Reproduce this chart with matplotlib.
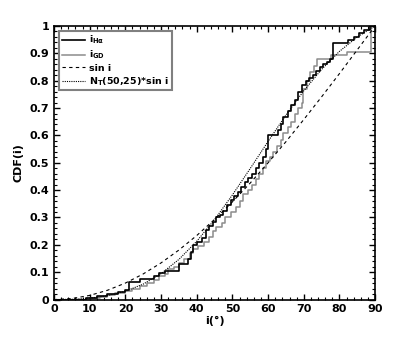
import numpy as np
import matplotlib
matplotlib.use('Agg')
import matplotlib.pyplot as plt
from matplotlib.ticker import MultipleLocator, FormatStrFormatter

plt.rcParams['font.family'] = ['DejaVu Sans']
plt.rcParams['font.weight'] = 'bold'
plt.rcParams['mathtext.fontset'] = 'dejavusans'
plt.rcParams['mathtext.default'] = 'bf'

# empirical CDF of H-alpha inclinations (angle where the step occurs, CDF after it)
ha_angle = [0, 9, 12, 15, 18, 20, 21, 24, 28, 29.5, 31, 35, 37.5, 38.3, 39, 40, 41.5,
            42.5, 43.5, 44.5, 45.5, 46.5, 47.5, 48.5, 49.5, 50.5, 51.5, 52.5, 53.5,
            54.5, 55.5, 56.5, 57.5, 58.5, 59.5, 60, 62.8, 63.5, 64.3, 65.5, 66.5, 67.5,
            68.5, 69.4, 70.5, 71.5, 72.5, 73.5, 74.5, 75.5, 76.5, 77.4, 78.2, 82.5, 84,
            85.5, 87, 88.6, 90]
ha_cdf = [0, 0.007, 0.014, 0.02, 0.027, 0.035, 0.065, 0.075, 0.085, 0.098, 0.105, 0.13,
          0.15, 0.175, 0.2, 0.21, 0.225, 0.255, 0.27, 0.285, 0.3, 0.31, 0.325, 0.345,
          0.365, 0.38, 0.395, 0.41, 0.43, 0.445, 0.46, 0.48, 0.5, 0.52, 0.55, 0.6, 0.62,
          0.64, 0.668, 0.69, 0.71, 0.73, 0.76, 0.785, 0.8, 0.81, 0.82, 0.835, 0.85, 0.86,
          0.87, 0.88, 0.937, 0.95, 0.96, 0.975, 0.985, 1.0, 1.0]

# empirical CDF of GD inclinations
gd_angle = [0, 10, 13, 15, 17, 20, 22, 24, 26, 28, 29.5, 31, 32, 33.5, 35, 36.5, 38, 39,
            40.5, 42, 43.5, 44.5, 45.5, 47, 48, 49.5, 51, 52, 53, 54.5, 55.5, 56.5, 57.5,
            58.5, 59.5, 60.5, 61.5, 62.5, 63.5, 64.3, 65.5, 66.5, 67.5, 68.5, 69.4, 69.8,
            70.8, 71.8, 72.8, 73.8, 77.5, 82, 88.8, 90]
gd_cdf = [0, 0.005, 0.01, 0.015, 0.025, 0.03, 0.04, 0.05, 0.06, 0.07, 0.085, 0.095, 0.11,
          0.12, 0.135, 0.15, 0.17, 0.185, 0.195, 0.21, 0.23, 0.25, 0.265, 0.28, 0.3, 0.32,
          0.34, 0.36, 0.385, 0.4, 0.42, 0.44, 0.46, 0.48, 0.505, 0.52, 0.54, 0.56, 0.585,
          0.61, 0.63, 0.65, 0.68, 0.7, 0.72, 0.77, 0.80, 0.83, 0.855, 0.88, 0.895, 0.905,
          1.0, 1.0]

# model curves read on a 5 degree grid
model_angle = [0, 5, 10, 15, 20, 25, 30, 35, 40, 45, 50, 55, 60, 65, 70, 75, 80, 85, 90]
sin_cdf = [0, 0.0038, 0.0152, 0.0341, 0.0603, 0.0937, 0.134, 0.181, 0.234, 0.293,
           0.357, 0.426, 0.5, 0.577, 0.658, 0.741, 0.826, 0.913, 1.0]
nt_cdf = [0, 0.0011, 0.0051, 0.0141, 0.0304, 0.0565, 0.0947, 0.1467, 0.2129, 0.2923,
          0.3824, 0.4792, 0.5781, 0.6742, 0.7631, 0.8413, 0.9071, 0.9598, 1.0]

fig = plt.figure(figsize=(4.15, 3.37), dpi=100)
ax = fig.add_axes([0.130, 0.111, 0.774, 0.812])

ax.step(gd_angle, gd_cdf, where='post', color='#8c8c8c', lw=1.1, label=r'i$_{GD}$', zorder=2)
ax.step(ha_angle, ha_cdf, where='post', color='black', lw=1.2, label=r'i$_{H\alpha}$', zorder=3)
ax.plot(model_angle, sin_cdf, color='black', lw=0.8, ls=(0, (3, 3)), label='sin i')
ax.plot(model_angle, nt_cdf, color='black', lw=0.8, ls=(0, (1, 1)), label=r'N$_T$(50,25)*sin i')

ax.set_xlim(0, 90)
ax.set_ylim(0, 1)
ax.xaxis.set_major_locator(MultipleLocator(10))
ax.xaxis.set_minor_locator(MultipleLocator(2))
ax.yaxis.set_major_locator(MultipleLocator(0.1))
ax.yaxis.set_minor_locator(MultipleLocator(0.02))
ax.yaxis.set_major_formatter(FormatStrFormatter('%g'))
ax.tick_params(which='both', direction='in', top=True, right=True, labelsize=8)
ax.tick_params(which='major', length=4, width=1)
ax.tick_params(which='minor', length=2, width=0.8)
for s in ax.spines.values():
    s.set_linewidth(1.2)

ax.set_xlabel('i(°)', fontsize=8, fontweight='bold', labelpad=1)
ax.set_ylabel('CDF(i)', fontsize=8, fontweight='bold', labelpad=4)

h, l = ax.get_legend_handles_labels()
order = [1, 0, 2, 3]
leg = ax.legend([h[k] for k in order], [l[k] for k in order], loc='upper left',
                prop={'size': 6.8, 'weight': 'bold'}, fancybox=False, framealpha=1,
                edgecolor='#808080', handlelength=2.4, handletextpad=0.5,
                labelspacing=0.25, borderpad=0.3, borderaxespad=0.55)
leg.get_frame().set_linewidth(1.5)

fig.savefig('out.png', dpi=100)
